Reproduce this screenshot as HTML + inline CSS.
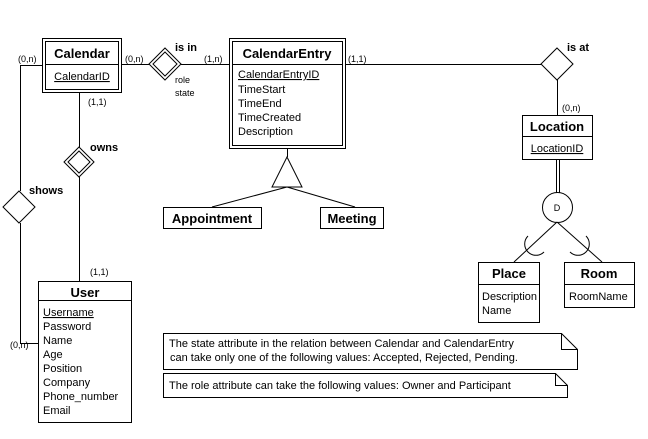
<!DOCTYPE html>
<html><head><meta charset="utf-8"><style>
html,body{margin:0;padding:0;background:#fff;}
svg{display:block;}
text{font-family:"Liberation Sans",Arial,sans-serif;fill:#000;}
.t{font-size:11px;}
.s{font-size:9px;}
.b{font-size:13px;font-weight:bold;}
.u{text-decoration:underline;}
</style></head><body>
<svg width="648" height="439" viewBox="0 0 648 439" xmlns="http://www.w3.org/2000/svg" fill="none" stroke="#000" stroke-width="1">
<g shape-rendering="crispEdges">
<rect x="42.5" y="38.5" width="79" height="54" fill="#fff"/>
<rect x="45.5" y="41.5" width="73" height="48"/>
<line x1="45" y1="64.5" x2="119" y2="64.5"/>
<rect x="229.5" y="38.5" width="116" height="110" fill="#fff"/>
<rect x="232.5" y="41.5" width="110" height="104"/>
<line x1="232" y1="64.5" x2="343" y2="64.5"/>
<rect x="38.5" y="281.5" width="93" height="141"/>
<line x1="38" y1="300.5" x2="132" y2="300.5"/>
<rect x="522.5" y="115.5" width="70" height="44"/>
<line x1="522" y1="136.5" x2="593" y2="136.5"/>
<rect x="478.5" y="262.5" width="61" height="60"/>
<line x1="478" y1="284.5" x2="540" y2="284.5"/>
<rect x="564.5" y="262.5" width="70" height="45"/>
<line x1="564" y1="284.5" x2="635" y2="284.5"/>
<rect x="163.5" y="207.5" width="98" height="21"/>
<rect x="320.5" y="207.5" width="63" height="21"/>
<polyline points="42,65.5 20.5,65.5 20.5,191"/>
<polyline points="20.5,223 20.5,343.5 38,343.5"/>
<line x1="122" y1="64.5" x2="150" y2="64.5"/>
<line x1="181" y1="64.5" x2="229" y2="64.5"/>
<line x1="79.5" y1="93" x2="79.5" y2="147"/>
<line x1="79.5" y1="177" x2="79.5" y2="281"/>
<line x1="346" y1="64.5" x2="541" y2="64.5"/>
<line x1="557.5" y1="80" x2="557.5" y2="115"/>
<line x1="556.5" y1="160" x2="556.5" y2="193"/>
<line x1="559.5" y1="160" x2="559.5" y2="193"/>
<line x1="287.5" y1="149" x2="287.5" y2="157"/>
</g>
<polygon points="19,191 35,207 19,223 3,207" fill="#fff"/>
<polygon points="165,48 181,64 165,80 149,64" fill="#fff"/>
<polygon points="165,52 177,64 165,76 153,64"/>
<polygon points="79,147 94,162 79,177 64,162" fill="#fff"/>
<polygon points="79,151 90,162 79,173 68,162"/>
<polygon points="557,48 573,64 557,80 541,64" fill="#fff"/>
<polygon points="287,157 302,187 272,187" fill="#fff"/>
<line x1="287" y1="187" x2="212" y2="207"/>
<line x1="287" y1="187" x2="355" y2="207"/>
<circle cx="557.5" cy="207.5" r="15" fill="#fff"/>
<line x1="557" y1="222" x2="514" y2="262"/>
<line x1="557" y1="222" x2="602" y2="262"/>
<path d="M528,236 A10,10 0 0 0 544,252"/>
<path d="M586,236 A10,10 0 0 1 570,252"/>
<path d="M163.5,333.5 H561.5 L577.5,349.5 V369.5 H163.5 Z"/>
<path d="M561.5,333.5 V349.5 H577.5"/>
<path d="M163.5,373.5 H555.5 L567.5,385.5 V397.5 H163.5 Z"/>
<path d="M555.5,373.5 V385.5 H567.5"/>
<g stroke="none">
<text class="b" x="82" y="58" text-anchor="middle">Calendar</text>
<text class="t u" x="82" y="80" text-anchor="middle">CalendarID</text>
<text class="b" x="287" y="58" text-anchor="middle">CalendarEntry</text>
<text class="t u" x="238" y="78">CalendarEntryID</text>
<text class="t" x="238" y="93">TimeStart</text>
<text class="t" x="238" y="107">TimeEnd</text>
<text class="t" x="238" y="121">TimeCreated</text>
<text class="t" x="238" y="135">Description</text>
<text class="b" x="85" y="297" text-anchor="middle">User</text>
<text class="t u" x="43" y="316">Username</text>
<text class="t" x="43" y="330">Password</text>
<text class="t" x="43" y="344">Name</text>
<text class="t" x="43" y="358">Age</text>
<text class="t" x="43" y="372">Position</text>
<text class="t" x="43" y="386">Company</text>
<text class="t" x="43" y="400">Phone_number</text>
<text class="t" x="43" y="414">Email</text>
<text class="b" x="557" y="131" text-anchor="middle">Location</text>
<text class="t u" x="557" y="152" text-anchor="middle">LocationID</text>
<text class="b" x="509" y="278" text-anchor="middle">Place</text>
<text class="t" x="482" y="300">Description</text>
<text class="t" x="482" y="314">Name</text>
<text class="b" x="599" y="278" text-anchor="middle">Room</text>
<text class="t" x="569" y="300">RoomName</text>
<text class="b" x="212" y="223" text-anchor="middle">Appointment</text>
<text class="b" x="352" y="223" text-anchor="middle">Meeting</text>
<text class="s" x="557" y="211" text-anchor="middle">D</text>
<text class="t" x="175" y="51" font-weight="bold">is in</text>
<text class="s" x="175" y="83">role</text>
<text class="s" x="175" y="96">state</text>
<text class="t" x="567" y="51" font-weight="bold">is at</text>
<text class="t" x="90" y="151" font-weight="bold">owns</text>
<text class="t" x="29" y="194" font-weight="bold">shows</text>
<text class="s" x="18" y="62">(0,n)</text>
<text class="s" x="125" y="62">(0,n)</text>
<text class="s" x="204" y="62">(1,n)</text>
<text class="s" x="348" y="62">(1,1)</text>
<text class="s" x="88" y="105">(1,1)</text>
<text class="s" x="90" y="275">(1,1)</text>
<text class="s" x="562" y="111">(0,n)</text>
<text class="s" x="10" y="348">(0,n)</text>
<text class="t" x="169" y="347">The state attribute in the relation between Calendar and CalendarEntry</text>
<text class="t" x="170" y="361">can take only one of the following values: Accepted, Rejected, Pending.</text>
<text class="t" x="169" y="389">The role attribute can take the following values: Owner and Participant</text>
</g>
</svg>
</body></html>
